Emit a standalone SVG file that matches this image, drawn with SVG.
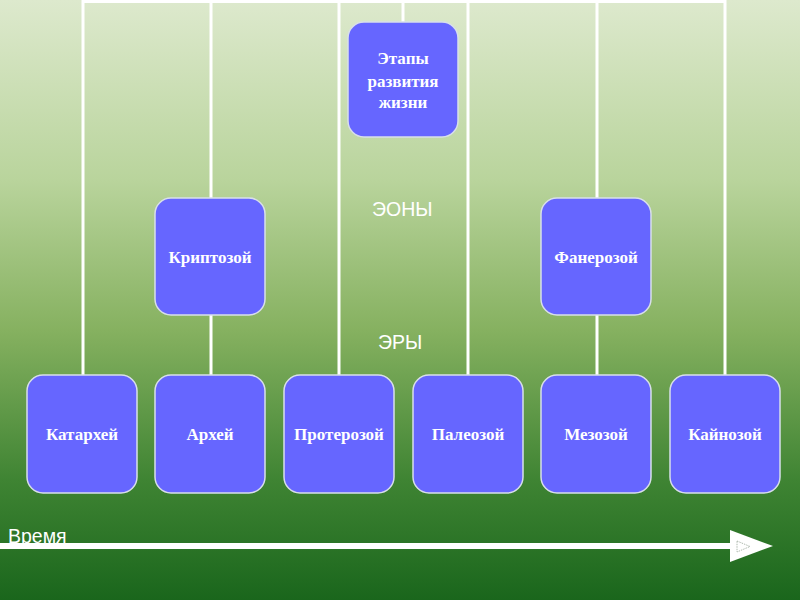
<svg xmlns="http://www.w3.org/2000/svg" width="800" height="600" viewBox="0 0 800 600">
<defs>
<linearGradient id="bg" x1="0" y1="0" x2="0" y2="1">
<stop offset="0" stop-color="#dde9cd"/>
<stop offset="0.3" stop-color="#b9d49c"/>
<stop offset="0.55" stop-color="#86b160"/>
<stop offset="0.8" stop-color="#3f8433"/>
<stop offset="1" stop-color="#1a661c"/>
</linearGradient>
<style>
.box{fill:#6666ff;stroke:#d8dfea;stroke-width:1.5}
.lbl{font-family:"Liberation Serif","DejaVu Serif",serif;font-weight:bold;font-size:17px;fill:#ffffff;text-anchor:middle}
.ln{stroke:#ffffff;stroke-width:3;fill:none}
.cap{font-family:"Liberation Sans",Arial,sans-serif;font-size:19.5px;fill:#ffffff}
</style>
</defs>
<rect x="0" y="0" width="800" height="600" fill="url(#bg)"/>
<g id="connectors">
<path class="ln" d="M83,1.5 H725"/>
<path class="ln" d="M83,0 V375"/>
<path class="ln" d="M211,0 V198 M211,315 V375"/>
<path class="ln" d="M339,0 V375"/>
<path class="ln" d="M403,0 V22"/>
<path class="ln" d="M468,0 V375"/>
<path class="ln" d="M597,0 V198 M597,315 V375"/>
<path class="ln" d="M725,0 V375"/>
</g>
<g id="root"><rect class="box" x="348" y="22" width="110" height="115" rx="16"/><text class="lbl" x="403" y="64">Этапы</text><text class="lbl" x="403" y="87">развития</text><text class="lbl" x="403" y="108">жизни</text></g>
<g id="kriptozoy"><rect class="box" x="155" y="198" width="110" height="117" rx="16"/><text class="lbl" x="210" y="263">Криптозой</text></g>
<g id="fanerozoy"><rect class="box" x="541" y="198" width="110" height="117" rx="16"/><text class="lbl" x="596" y="263">Фанерозой</text></g>
<g id="katarkhey"><rect class="box" x="27" y="375" width="110" height="118" rx="16"/><text class="lbl" x="82" y="440">Катархей</text></g>
<g id="arkhey"><rect class="box" x="155" y="375" width="110" height="118" rx="16"/><text class="lbl" x="210" y="440">Архей</text></g>
<g id="proterozoy"><rect class="box" x="284" y="375" width="110" height="118" rx="16"/><text class="lbl" x="339" y="440">Протерозой</text></g>
<g id="paleozoy"><rect class="box" x="413" y="375" width="110" height="118" rx="16"/><text class="lbl" x="468" y="440">Палеозой</text></g>
<g id="mezozoy"><rect class="box" x="541" y="375" width="110" height="118" rx="16"/><text class="lbl" x="596" y="440">Мезозой</text></g>
<g id="kaynozoy"><rect class="box" x="670" y="375" width="110" height="118" rx="16"/><text class="lbl" x="725" y="440">Кайнозой</text></g>
<text class="cap" x="372" y="216">ЭОНЫ</text>
<text class="cap" x="378" y="349">ЭРЫ</text>
<g id="time-axis">
<text class="cap" x="8" y="543">Время</text>
<rect x="0" y="543" width="732" height="6" fill="#ffffff"/>
<polygon points="730,530 773,546 730,562" fill="#ffffff"/>
<polygon points="737,541 750,546.5 737,552" fill="none" stroke="#9aa89a" stroke-width="0.8" stroke-dasharray="1.5,1"/>
</g>
</svg>
